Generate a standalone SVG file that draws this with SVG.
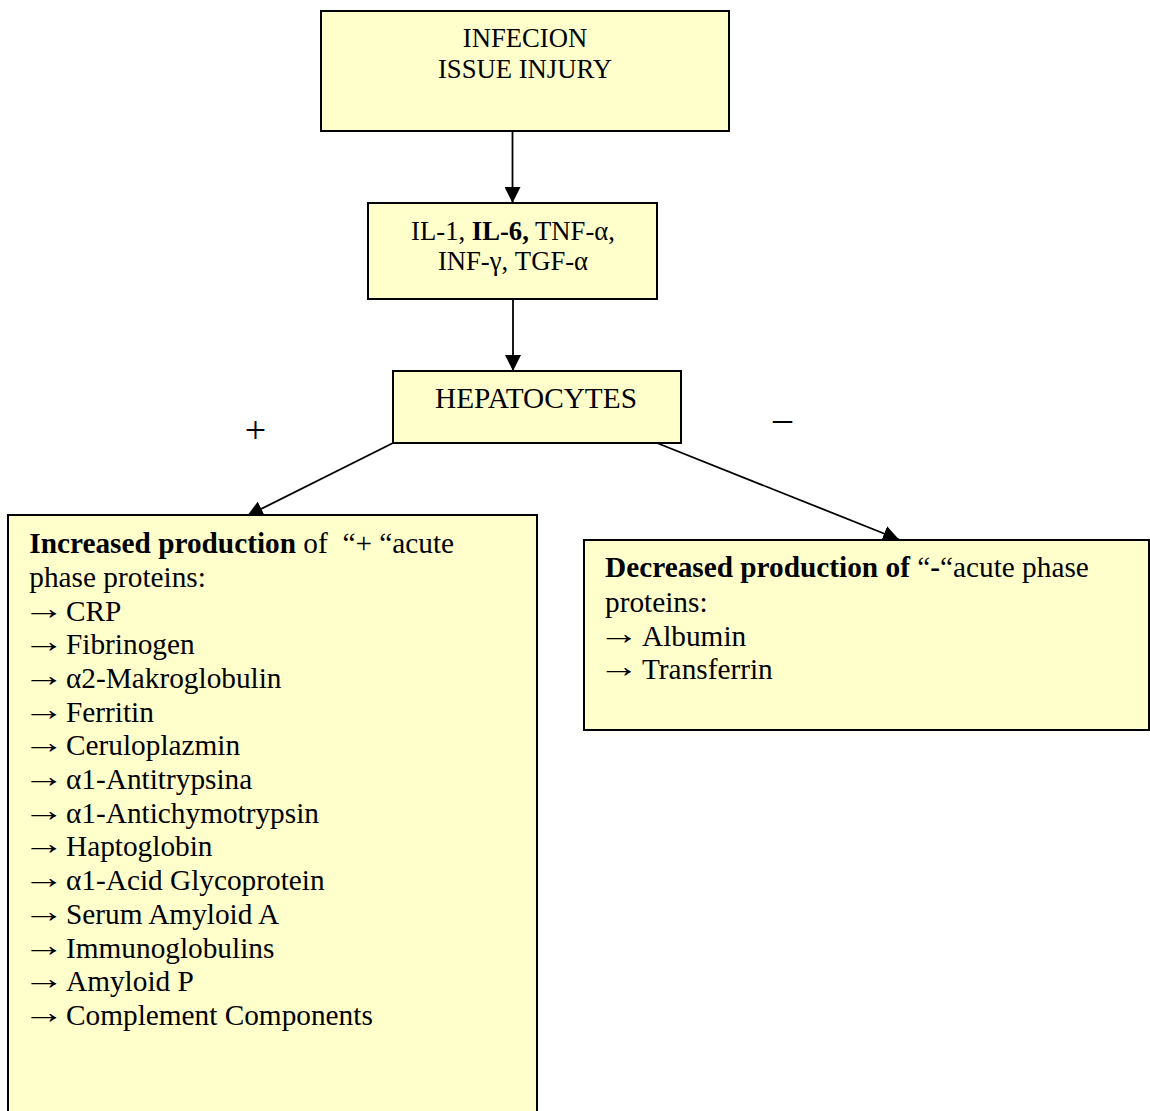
<svg xmlns="http://www.w3.org/2000/svg" width="1150" height="1111" viewBox="0 0 1150 1111">
<defs>
<marker id="ah" viewBox="0 0 16 16" markerWidth="16" markerHeight="16" refX="16" refY="8" orient="auto" markerUnits="userSpaceOnUse">
<path d="M0,0 L16,8 L0,16 Z" fill="#000"/>
</marker>
</defs>
<style>
.box{fill:#FFFFCC;stroke:#000;stroke-width:2}
.t{font-family:"Liberation Serif","Times New Roman",serif;fill:#000}
.s27{font-size:26.67px}
.s29{font-size:29.3px}
.s38{font-size:38px}
.b{font-weight:bold}
.ar{font-family:"Liberation Serif",serif;font-size:32px}
.c{stroke:#000;stroke-width:1.8;fill:none;marker-end:url(#ah)}
</style>
<rect width="1150" height="1111" fill="#fff"/>
<g id="connectors">
<line class="c" x1="512.5" y1="131" x2="512.5" y2="203"/>
<line class="c" x1="513" y1="299" x2="513" y2="371"/>
<line class="c" x1="393" y1="443" x2="247" y2="516"/>
<line class="c" x1="657" y1="443" x2="899" y2="539.5"/>
</g>
<g id="labels">
<text class="t s38" x="255.5" y="442.5" text-anchor="middle">+</text>
<text class="t s38" x="782.5" y="430.5" text-anchor="middle">–</text>
</g>
<g id="node-injury">
<rect class="box" x="321" y="11" width="408" height="120"/>
<text class="t s27" x="525" y="47" text-anchor="middle">INFECION</text>
<text class="t s27" x="525" y="78" text-anchor="middle">ISSUE INJURY</text>
</g>
<g id="node-cytokines">
<rect class="box" x="368" y="203" width="289" height="96"/>
<text class="t s27" x="513" y="240" text-anchor="middle">IL-1, <tspan class="b">IL-6,</tspan> TNF-α,</text>
<text class="t s27" x="513" y="270" text-anchor="middle">INF-γ, TGF-α</text>
</g>
<g id="node-hepatocytes">
<rect class="box" x="393" y="371" width="288" height="72"/>
<text class="t s29" x="536" y="408" text-anchor="middle">HEPATOCYTES</text>
</g>
<g id="node-increased">
<rect class="box" x="8" y="515" width="529" height="620"/>
<text class="t s29" x="29.3" y="553" xml:space="preserve"><tspan class="b">Increased production</tspan> of  “+ “acute</text>
<text class="t s29" x="29.3" y="587">phase proteins:</text>
<text class="t s29" x="22.5" y="620.5"><tspan class="ar" dy="-2" textLength="42" lengthAdjust="spacingAndGlyphs">→</tspan><tspan x="66" dy="2">CRP</tspan></text>
<text class="t s29" x="22.5" y="654.2"><tspan class="ar" dy="-2" textLength="42" lengthAdjust="spacingAndGlyphs">→</tspan><tspan x="66" dy="2">Fibrinogen</tspan></text>
<text class="t s29" x="22.5" y="687.9"><tspan class="ar" dy="-2" textLength="42" lengthAdjust="spacingAndGlyphs">→</tspan><tspan x="66" dy="2">α2-Makroglobulin</tspan></text>
<text class="t s29" x="22.5" y="721.6"><tspan class="ar" dy="-2" textLength="42" lengthAdjust="spacingAndGlyphs">→</tspan><tspan x="66" dy="2">Ferritin</tspan></text>
<text class="t s29" x="22.5" y="755.3"><tspan class="ar" dy="-2" textLength="42" lengthAdjust="spacingAndGlyphs">→</tspan><tspan x="66" dy="2">Ceruloplazmin</tspan></text>
<text class="t s29" x="22.5" y="789"><tspan class="ar" dy="-2" textLength="42" lengthAdjust="spacingAndGlyphs">→</tspan><tspan x="66" dy="2">α1-Antitrypsina</tspan></text>
<text class="t s29" x="22.5" y="822.7"><tspan class="ar" dy="-2" textLength="42" lengthAdjust="spacingAndGlyphs">→</tspan><tspan x="66" dy="2">α1-Antichymotrypsin</tspan></text>
<text class="t s29" x="22.5" y="856.4"><tspan class="ar" dy="-2" textLength="42" lengthAdjust="spacingAndGlyphs">→</tspan><tspan x="66" dy="2">Haptoglobin</tspan></text>
<text class="t s29" x="22.5" y="890.1"><tspan class="ar" dy="-2" textLength="42" lengthAdjust="spacingAndGlyphs">→</tspan><tspan x="66" dy="2">α1-Acid Glycoprotein</tspan></text>
<text class="t s29" x="22.5" y="923.8"><tspan class="ar" dy="-2" textLength="42" lengthAdjust="spacingAndGlyphs">→</tspan><tspan x="66" dy="2">Serum Amyloid A</tspan></text>
<text class="t s29" x="22.5" y="957.5"><tspan class="ar" dy="-2" textLength="42" lengthAdjust="spacingAndGlyphs">→</tspan><tspan x="66" dy="2">Immunoglobulins</tspan></text>
<text class="t s29" x="22.5" y="991.2"><tspan class="ar" dy="-2" textLength="42" lengthAdjust="spacingAndGlyphs">→</tspan><tspan x="66" dy="2">Amyloid P</tspan></text>
<text class="t s29" x="22.5" y="1025"><tspan class="ar" dy="-2" textLength="42" lengthAdjust="spacingAndGlyphs">→</tspan><tspan x="66" dy="2">Complement Components</tspan></text>
</g>
<g id="node-decreased">
<rect class="box" x="584" y="540" width="565" height="190"/>
<text class="t s29" x="605" y="577"><tspan class="b">Decreased production of</tspan> “<tspan class="b">-</tspan>“acute phase</text>
<text class="t s29" x="605" y="611.5">proteins:</text>
<text class="t s29" x="598" y="645.5"><tspan class="ar" dy="-2" textLength="41" lengthAdjust="spacingAndGlyphs">→</tspan><tspan x="642" dy="2">Albumin</tspan></text>
<text class="t s29" x="598" y="679"><tspan class="ar" dy="-2" textLength="41" lengthAdjust="spacingAndGlyphs">→</tspan><tspan x="642" dy="2">Transferrin</tspan></text>
</g>
</svg>
